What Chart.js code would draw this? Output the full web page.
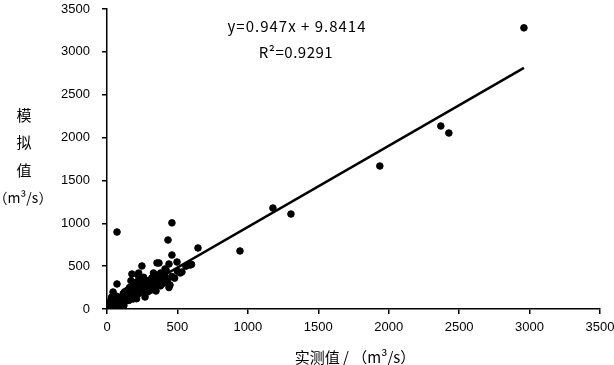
<!DOCTYPE html>
<html>
<head>
<meta charset="utf-8">
<script src="https://cdn.jsdelivr.net/npm/chart.js@4.4.0/dist/chart.umd.min.js"></script>
<style>
  html, body { margin: 0; padding: 0; background: #fff; }
  #wrap { width: 614px; height: 365px; position: relative; }
</style>
</head>
<body>
<div id="wrap"><canvas id="chart"></canvas></div>
<script>
// 实测值 (observed, m³/s)
const observed = [
    5, 10, 15, 20, 25, 30, 35, 40, 45, 50, 55, 60, 65, 70, 75, 80, 85, 90, 95, 100,
    12, 28, 38, 48, 58, 68, 18, 8, 33, 52,
    105, 110, 115, 120, 125, 130, 135, 140, 145, 150, 155, 160, 165, 170, 175, 180, 185, 190, 195, 200,
    130, 150, 170, 190, 210, 120,
    205, 210, 215, 220, 225, 230, 240, 245, 250, 255, 260, 270, 275, 280, 290, 300, 310, 320, 330, 340,
    225, 260, 290, 350,
    360, 370, 380, 390, 400, 410, 420, 430, 440, 460, 480, 500, 520, 560, 600, 380, 330,
    71, 461, 433, 646, 461, 248, 355, 369, 497, 440, 589, 532, 412, 71, 177, 220, 319, 447, 348, 270, 185, 43,
    944, 1178, 1306, 1937, 2370, 2427, 2960
];
// 模拟值 (simulated, m³/s)
const simulated = [
    10, 30, 5, 50, 20, 80, 40, 10, 120, 60, 30, 90, 150, 45, 110, 20, 70, 130, 50, 100,
    60, 110, 0, 90, 130, 80, 15, 45, 140, 5,
    140, 60, 180, 110, 200, 90, 160, 120, 220, 170, 100, 250, 140, 200, 260, 180, 230, 300, 150, 240,
    180, 120, 330, 250, 120, 40,
    280, 200, 320, 260, 180, 300, 340, 220, 280, 350, 240, 310, 190, 260, 330, 280, 220, 360, 300, 250,
    420, 370, 200, 320,
    380, 290, 420, 340, 300, 380, 450, 330, 250, 380, 360, 440, 420, 500, 520, 270, 420,
    898, 1005, 805, 712, 630, 502, 537, 537, 548, 525, 513, 432, 467, 292, 408, 397, 362, 280, 210, 140, 117, 198,
    677, 1178, 1108, 1668, 2135, 2053, 3280
];

// 趋势线 y = 0.947x + 9.8414
const slope = 0.947;
const intercept = 9.8414;
const fitX = [0, 2960];

const axisTicks = [0, 500, 1000, 1500, 2000, 2500, 3000, 3500];

const scatterData = observed.map((x, i) => ({ x: x, y: simulated[i] }));
const fitData = fitX.map(x => ({ x: x, y: slope * x + intercept }));

const cjk = '"Noto Sans CJK SC", sans-serif';
const tickFont = { family: '"Liberation Sans", Arial, sans-serif', size: 13 };

// 坐标轴标题和公式文字
const labelPlugin = {
    id: 'labels',
    afterDraw(chart) {
        const ctx = chart.ctx;
        ctx.save();
        ctx.fillStyle = '#000';
        ctx.textAlign = 'center';
        ctx.textBaseline = 'middle';

        ctx.font = '15px ' + cjk;
        ['模', '拟', '值'].forEach((ch, i) => ctx.fillText(ch, 24, 115 + i * 27.5));
        ctx.font = '14px ' + cjk;
        ctx.fillText('（m³/s）', 23, 198);
        ctx.font = '15px ' + cjk;
        ctx.fillText('实测值 / （m³/s）', 355, 357);

        ctx.font = '15px ' + cjk;
        ctx.letterSpacing = '1px';
        ctx.fillText('y=0.947x + 9.8414', 297, 26);
        ctx.letterSpacing = '0.5px';
        ctx.fillText('R²=0.9291', 296, 52);
        ctx.restore();
    }
};

new Chart(document.getElementById('chart'), {
    type: 'scatter',
    data: {
        datasets: [
            {
                label: '模拟值',
                data: scatterData,
                backgroundColor: '#000',
                borderColor: '#000',
                pointRadius: 3.3,
                pointHoverRadius: 3.3
            },
            {
                type: 'line',
                label: '趋势线',
                data: fitData,
                borderColor: '#000',
                borderWidth: 2.5,
                pointRadius: 0,
                fill: false
            }
        ]
    },
    options: {
        responsive: true,
        maintainAspectRatio: false,
        animation: false,
        layout: { padding: { top: 9, right: 14, left: 0, bottom: 0 } },
        plugins: {
            legend: { display: false },
            tooltip: { enabled: false }
        },
        scales: {
            x: {
                type: 'linear',
                min: 0,
                max: 3500,
                afterBuildTicks: s => { s.ticks = axisTicks.map(v => ({ value: v })); },
                afterFit: s => { s.height = 56; s.paddingLeft = 0; s.paddingRight = 0; },
                border: { color: '#000', width: 1.5 },
                grid: { drawOnChartArea: false, drawTicks: true, tickLength: 5, color: '#000', lineWidth: 1.5 },
                ticks: {
                    color: '#000',
                    padding: 6,
                    maxRotation: 0,
                    font: tickFont,
                    callback: v => String(v)
                }
            },
            y: {
                type: 'linear',
                min: 0,
                max: 3500,
                afterBuildTicks: s => { s.ticks = axisTicks.map(v => ({ value: v })); },
                afterFit: s => { s.width = 107; s.paddingTop = 0; s.paddingBottom = 0; },
                border: { color: '#000', width: 1.5 },
                grid: { drawOnChartArea: false, drawTicks: true, tickLength: 5, color: '#000', lineWidth: 1.5 },
                ticks: {
                    color: '#000',
                    padding: 12,
                    font: tickFont,
                    callback: v => String(v)
                }
            }
        }
    },
    plugins: [labelPlugin]
});
</script>
</body>
</html>
